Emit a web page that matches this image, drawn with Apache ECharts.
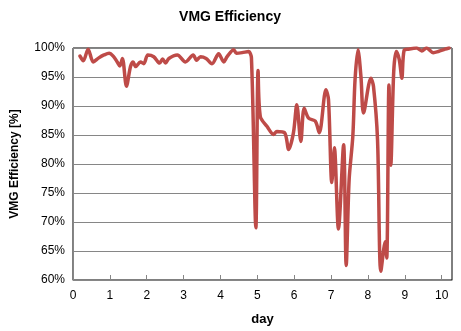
<!DOCTYPE html>
<html>
<head>
<meta charset="utf-8">
<script src="https://cdn.jsdelivr.net/npm/echarts@6/dist/echarts.min.js"></script>
<style>
  html, body { margin: 0; padding: 0; background: #fff; }
  #chart { width: 461px; height: 331px; }
</style>
</head>
<body>
<div id="chart"></div>
<script>
// Sample times (days) and VMG efficiency readings (%)
const days = [
  0.19, 0.28, 0.41, 0.55, 0.70, 0.84, 0.98, 1.09, 1.20, 1.27,
  1.34, 1.45, 1.56, 1.63, 1.70, 1.83, 1.92, 2.03, 2.19, 2.35,
  2.43, 2.51, 2.60, 2.83, 3.05, 3.26, 3.35, 3.46, 3.61, 3.77,
  3.95, 4.09, 4.18, 4.36, 4.43, 4.59, 4.76, 4.84, 4.96, 5.02,
  5.08, 5.26, 5.44, 5.53, 5.74, 5.85, 5.98, 6.07, 6.18, 6.27,
  6.39, 6.57, 6.68, 6.86, 6.93, 7.02, 7.09, 7.20, 7.34, 7.41,
  7.49, 7.59, 7.65, 7.73, 7.81, 7.88, 8.08, 8.15, 8.26, 8.35,
  8.47, 8.51, 8.57, 8.62, 8.70, 8.77, 8.85, 8.92, 8.98, 9.10,
  9.32, 9.46, 9.59, 9.77, 9.91, 10.09, 10.2
];
const efficiency = [
  98.6, 97.8, 99.8, 97.6, 98.3, 98.8, 99.1, 98.6, 97.6, 96.9,
  98.2, 93.4, 96.8, 97.6, 96.8, 97.6, 97.3, 98.8, 98.5, 97.4,
  98.1, 97.4, 98.2, 98.8, 97.6, 98.8, 97.9, 98.5, 98.2, 97.3,
  99.0, 97.6, 98.5, 99.7, 99.1, 99.2, 99.4, 98.3, 69.0, 96.1,
  88.2, 86.5, 85.1, 85.6, 85.4, 82.5, 85.4, 90.2, 83.9, 89.6,
  87.9, 87.4, 85.4, 92.8, 91.1, 76.8, 82.8, 68.8, 83.3, 62.5,
  77.3, 84.8, 94.5, 99.7, 95.1, 88.8, 94.8, 93.4, 84.2, 61.5,
  66.6, 63.8, 93.6, 79.8, 96.0, 99.4, 98.0, 94.8, 99.6, 99.8,
  100, 99.5, 100, 99.2, 99.4, 99.8, 100
];
const xTicks = [0, 1, 2, 3, 4, 5, 6, 7, 8, 9, 10];
const yTicks = [60, 65, 70, 75, 80, 85, 90, 95, 100];

const FONT = '"Liberation Sans", Arial, sans-serif';
const chart = echarts.init(document.getElementById('chart'), null, { renderer: 'canvas' });

chart.setOption({
  animation: false,
  backgroundColor: '#ffffff',
  title: {
    text: 'VMG Efficiency',
    left: 225,
    textAlign: 'center',
    top: 5,
    textStyle: { fontFamily: FONT, fontSize: 14, fontWeight: 'bold', color: '#000' }
  },
  grid: {
    left: 73, right: 9, top: 48, bottom: 50,
    show: true, borderColor: '#000', borderWidth: 1, backgroundColor: 'transparent'
  },
  xAxis: {
    type: 'value',
    min: xTicks[0],
    max: 10.28,
    interval: 1,
    name: 'day',
    nameLocation: 'middle',
    nameGap: 33,
    nameTextStyle: { fontFamily: FONT, fontSize: 13, fontWeight: 'bold', color: '#000' },
    axisLine: { show: true, onZero: false, lineStyle: { color: '#868686', width: 1 } },
    axisTick: { show: true, inside: true, length: 5, lineStyle: { color: '#868686' } },
    axisLabel: {
      fontFamily: FONT, fontSize: 12, color: '#000', margin: 10,
      showMaxLabel: false,
      formatter: v => (xTicks.indexOf(v) >= 0 ? String(v) : '')
    },
    splitLine: { show: false }
  },
  yAxis: {
    type: 'value',
    min: yTicks[0],
    max: yTicks[yTicks.length - 1],
    interval: 5,
    name: 'VMG Efficiency [%]',
    nameLocation: 'middle',
    nameGap: 52,
    nameRotate: 90,
    nameTextStyle: { fontFamily: FONT, fontSize: 12, fontWeight: 'bold', color: '#000' },
    axisLine: { show: true, lineStyle: { color: '#868686', width: 1 } },
    axisTick: { show: false },
    axisLabel: {
      fontFamily: FONT, fontSize: 12, color: '#000', margin: 8,
      formatter: v => v + '%'
    },
    splitLine: { show: true, lineStyle: { color: '#868686', width: 1 } }
  },
  series: [{
    type: 'line',
    data: days.map((d, i) => [d, efficiency[i]]),
    smooth: 0.3,
    showSymbol: false,
    clip: true,
    lineStyle: { color: '#BE4B48', width: 3.5, cap: 'round', join: 'round' }
  }]
});
</script>
</body>
</html>
